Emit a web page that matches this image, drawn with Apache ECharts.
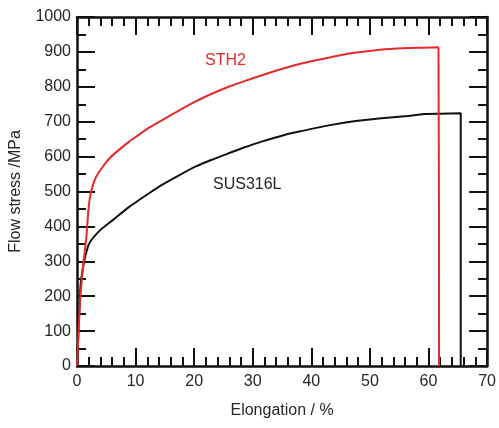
<!DOCTYPE html>
<html>
<head>
<meta charset="utf-8">
<script src="https://cdn.jsdelivr.net/npm/echarts@6/dist/echarts.min.js"></script>
<style>
  html, body { margin: 0; padding: 0; background: #fff; }
  #main { width: 499px; height: 428px; }
</style>
</head>
<body>
<div id="main"></div>
<script>
// STH2 curve (elongation %, stress MPa)
var sthX = [0, 0.5, 1.0, 1.6, 2.0, 2.4, 3.2, 4.4, 5.6, 7.2, 8.9, 10, 12.3, 15.5, 17.4, 20, 23, 26, 28.7, 32.6, 35.5, 38.3, 42.5, 46.7, 51, 56.4, 59, 61.7, 61.8];
var sthY = [0, 180, 280, 370, 456, 499, 540, 571, 596, 620, 643, 656, 683, 714, 732, 756, 780, 801, 817, 839, 854, 867, 882, 896, 905, 911, 912, 913, 0];
// SUS316L curve
var susX = [0, 0.3, 0.6, 1.0, 1.5, 2.1, 4, 6.1, 8.9, 12.3, 14.5, 17.5, 20.2, 23, 25.8, 28.5, 31.5, 35.4, 38.3, 42.5, 46.7, 51.5, 56.4, 59.2, 62, 65.5, 65.5];
var susY = [0, 120, 230, 280, 320, 352, 390, 418, 456, 495, 519, 547, 571, 591, 609, 626, 643, 662, 673, 688, 700, 709, 716, 722, 723, 724, 0];

var xTicks = [0, 10, 20, 30, 40, 50, 60, 70];
var yTicks = [0, 100, 200, 300, 400, 500, 600, 700, 800, 900, 1000];

function pairs(xs, ys) {
  return xs.map(function (x, i) { return [x, ys[i]]; });
}

var font = 'Liberation Sans, Arial, sans-serif';
var lineC = '#111';
var txtC = '#262626';

function axisBase(extra) {
  var a = {
    type: 'value',
    axisLine: { show: true, onZero: false, lineStyle: { color: lineC, width: 2.5 } },
    axisTick: { show: true, inside: true, length: 18, lineStyle: { color: lineC, width: 2 } },
    minorTick: { show: true, length: 9, lineStyle: { color: lineC, width: 2 } },
    splitLine: { show: false },
    minorSplitLine: { show: false }
  };
  for (var k in extra) a[k] = extra[k];
  return a;
}

var chart = echarts.init(document.getElementById('main'));
chart.setOption({
  backgroundColor: '#fff',
  animation: false,
  grid: { left: 77, right: 9, top: 17, bottom: 62 },
  xAxis: [
    axisBase({
      min: xTicks[0], max: xTicks[xTicks.length - 1], interval: 10,
      position: 'bottom',
      minorTick: { show: true, splitNumber: 5, length: 9, lineStyle: { color: lineC, width: 2 } },
      axisLabel: { color: txtC, fontSize: 16, fontFamily: font, margin: 8 },
      name: 'Elongation / %',
      nameLocation: 'middle',
      nameGap: 37,
      nameTextStyle: { color: txtC, fontSize: 16, fontFamily: font }
    }),
    axisBase({
      min: xTicks[0], max: xTicks[xTicks.length - 1], interval: 10,
      position: 'top',
      minorTick: { show: true, splitNumber: 5, length: 9, lineStyle: { color: lineC, width: 2 } },
      axisLabel: { show: false }
    })
  ],
  yAxis: [
    axisBase({
      min: yTicks[0], max: yTicks[yTicks.length - 1], interval: 100,
      position: 'left',
      minorTick: { show: true, splitNumber: 2, length: 9, lineStyle: { color: lineC, width: 2 } },
      axisLabel: { color: txtC, fontSize: 16, fontFamily: font, margin: 6,
        formatter: function (v) { return String(v); } },
      name: 'Flow stress /MPa',
      nameLocation: 'middle',
      nameGap: 53,
      nameTextStyle: { color: txtC, fontSize: 16, fontFamily: font }
    }),
    axisBase({
      min: yTicks[0], max: yTicks[yTicks.length - 1], interval: 100,
      position: 'right',
      minorTick: { show: true, splitNumber: 2, length: 9, lineStyle: { color: lineC, width: 2 } },
      axisLabel: { show: false }
    })
  ],
  series: [
    {
      name: 'SUS316L',
      type: 'line',
      data: pairs(susX, susY),
      showSymbol: false,
      smooth: 0.2,
      lineStyle: { color: '#111', width: 2 }
    },
    {
      name: 'STH2',
      type: 'line',
      data: pairs(sthX, sthY),
      showSymbol: false,
      smooth: 0.2,
      lineStyle: { color: '#e52a2a', width: 2 }
    }
  ],
  graphic: [
    { type: 'text', left: 205, top: 53, style: { text: 'STH2', fill: '#e52a2a', fontSize: 16, fontFamily: font } },
    { type: 'text', left: 213, top: 177, style: { text: 'SUS316L', fill: txtC, fontSize: 16, fontFamily: font } }
  ]
});
</script>
</body>
</html>
